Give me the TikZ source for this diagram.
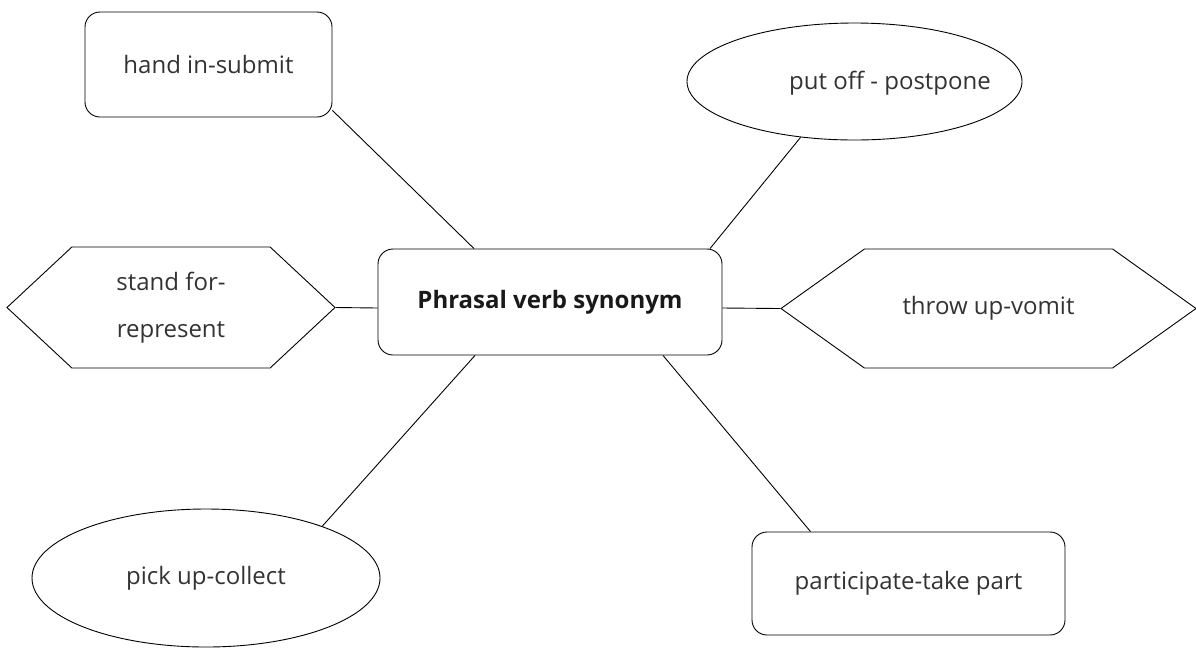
\documentclass[tikz,border=0pt]{standalone}
\usepackage{fontspec}
\setmainfont{Open Sans}
\usetikzlibrary{shapes.geometric,shapes.symbols}
\begin{document}
\begin{tikzpicture}[x=1pt,y=-1pt, line width=0.9pt,
 every node/.style={text=black!80, font=\fontsize{24}{28}\selectfont},
 rbox/.style={draw, rounded corners=15pt, inner sep=0pt},
 ell/.style={draw, ellipse, inner sep=0pt},
 hexa/.style={draw, signal, signal to=east and west, inner sep=0pt, align=center},
 conn/.style={draw, line width=0.9pt}]
\useasboundingbox (0,0) rectangle (1196,649);
\node[rbox, minimum width=247pt, minimum height=105pt] (hand) at (208.5,64.5) {hand in-submit};
\node[rbox, minimum width=344pt, minimum height=106pt, font=\fontsize{24}{28}\selectfont\bfseries, text=black!90] (c) at (550,302) {Phrasal verb synonym};
\node[ell, minimum width=335pt, minimum height=117pt] (po) at (854.5,81.5) {};
\node (potext) at (890,83) {put off - postpone};
\node[ell, minimum width=348pt, minimum height=138pt] (pu) at (206,578) {pick up-collect};
\node[rbox, minimum width=313pt, minimum height=103pt] (pt) at (908.5,583.5) {participate-take part};
\node[hexa, minimum width=328pt, minimum height=121pt, signal pointer angle=86, font=\fontsize{24}{47}\selectfont] (sf) at (171,307.5) {stand for-\\represent};
\node[hexa, minimum width=415pt, minimum height=119pt, signal pointer angle=71] (tu) at (988.5,308.5) {throw up-vomit};
\draw[conn] ([yshift=7pt]hand.south east) -- ([xshift=-76pt]c.north);
\draw[conn] (po.226) -- ([xshift=160pt]c.north);
\draw[conn] (sf.east) -- ([yshift=-6pt]c.west);
\draw[conn] ([yshift=-6pt]c.east) -- (tu.west);
\draw[conn] (pu.24) -- ([xshift=-75pt]c.south);
\draw[conn] ([xshift=-98pt]pt.north) -- ([xshift=113pt]c.south);
\end{tikzpicture}
\end{document}
